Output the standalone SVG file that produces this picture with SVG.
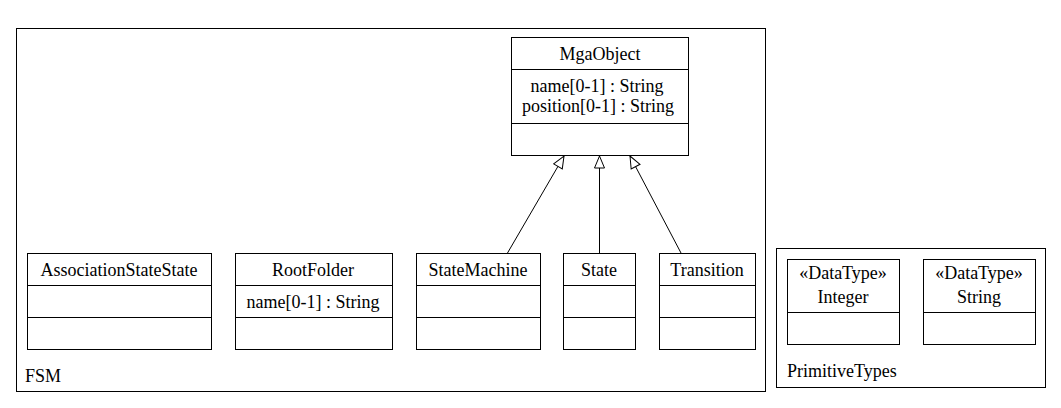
<svg xmlns="http://www.w3.org/2000/svg" width="1061" height="408" viewBox="0 0 1061 408">
<style>
rect.box{fill:#fff;stroke:#000;stroke-width:1}
line.div{stroke:#000;stroke-width:1}
text{font-family:'Liberation Serif','Times New Roman',serif;font-size:18px;fill:#000}
.c{text-anchor:middle}
.conn path{fill:none;stroke:#000;stroke-width:1}
</style>
<defs>
<marker id="gen" viewBox="0 0 14 12" refX="13" refY="6" markerWidth="14" markerHeight="12" markerUnits="userSpaceOnUse" orient="auto">
<path d="M1,1 L13,6 L1,11 Z" fill="#fff" stroke="#000" stroke-width="1"/>
</marker>
</defs>
<rect width="1061" height="408" fill="#fff"/>
<g id="FSM">
<rect class="box" x="16.5" y="28.5" width="749" height="363"/>
<text x="25" y="382">FSM</text>
</g>
<g id="PrimitiveTypes">
<rect class="box" x="776.5" y="248.5" width="269" height="139"/>
<text x="787" y="377">PrimitiveTypes</text>
</g>
<g id="MgaObject">
<rect class="box" x="511.5" y="37.5" width="177" height="118"/>
<line class="div" x1="511.5" y1="69.5" x2="688.5" y2="69.5"/>
<line class="div" x1="511.5" y1="123.5" x2="688.5" y2="123.5"/>
<text class="c" x="600" y="60">MgaObject</text>
<text class="c" x="597" y="92">name[0-1] : String</text>
<text class="c" x="598" y="112">position[0-1] : String</text>
</g>
<g id="AssociationStateState">
<rect class="box" x="27.5" y="253.5" width="184" height="96"/>
<line class="div" x1="27.5" y1="285.5" x2="211.5" y2="285.5"/>
<line class="div" x1="27.5" y1="317.5" x2="211.5" y2="317.5"/>
<text class="c" x="119" y="276">AssociationStateState</text>
</g>
<g id="RootFolder">
<rect class="box" x="235.5" y="253.5" width="157" height="96"/>
<line class="div" x1="235.5" y1="285.5" x2="392.5" y2="285.5"/>
<line class="div" x1="235.5" y1="317.5" x2="392.5" y2="317.5"/>
<text class="c" x="313" y="276">RootFolder</text>
<text class="c" x="313" y="308">name[0-1] : String</text>
</g>
<g id="StateMachine">
<rect class="box" x="416.5" y="253.5" width="124" height="96"/>
<line class="div" x1="416.5" y1="285.5" x2="540.5" y2="285.5"/>
<line class="div" x1="416.5" y1="317.5" x2="540.5" y2="317.5"/>
<text class="c" x="478" y="276">StateMachine</text>
</g>
<g id="State">
<rect class="box" x="563.5" y="253.5" width="72" height="96"/>
<line class="div" x1="563.5" y1="285.5" x2="635.5" y2="285.5"/>
<line class="div" x1="563.5" y1="317.5" x2="635.5" y2="317.5"/>
<text class="c" x="599" y="276">State</text>
</g>
<g id="Transition">
<rect class="box" x="659.5" y="253.5" width="96" height="96"/>
<line class="div" x1="659.5" y1="285.5" x2="755.5" y2="285.5"/>
<line class="div" x1="659.5" y1="317.5" x2="755.5" y2="317.5"/>
<text class="c" x="707" y="276">Transition</text>
</g>
<g id="Integer">
<rect class="box" x="787.5" y="259.5" width="112" height="85"/>
<line class="div" x1="787.5" y1="312.5" x2="899.5" y2="312.5"/>
<text class="c" x="843" y="279">«DataType»</text>
<text class="c" x="843" y="303">Integer</text>
</g>
<g id="String">
<rect class="box" x="923.5" y="259.5" width="112" height="85"/>
<line class="div" x1="923.5" y1="312.5" x2="1035.5" y2="312.5"/>
<text class="c" x="979" y="279">«DataType»</text>
<text class="c" x="979" y="303">String</text>
</g>
<g class="conn" id="connectors">
<path d="M507.5,253 L564,156" marker-end="url(#gen)"/>
<path d="M599.5,253 L599.5,156" marker-end="url(#gen)"/>
<path d="M681,253 L630,156" marker-end="url(#gen)"/>
</g>
</svg>
